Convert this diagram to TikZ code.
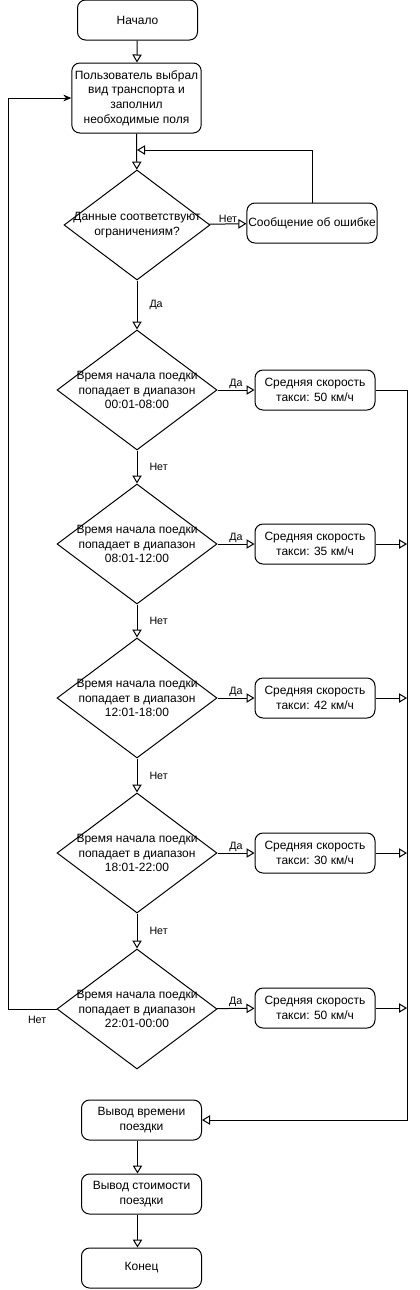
\documentclass[tikz,border=0pt]{standalone}
\usepackage{fontspec}
\setmainfont{Liberation Sans}
\usetikzlibrary{arrows.meta,shapes.geometric}

\begin{document}
\begin{tikzpicture}[x=0.75pt, y=-0.75pt, line width=0.75pt,
    font=\fontsize{9}{11}\selectfont,
    box/.style={draw, rounded corners=6pt, align=center, inner sep=1pt,
        minimum width=90pt, minimum height=30pt},
    dec/.style={draw, diamond, inner sep=0pt, minimum width=120pt, minimum height=90pt},
    dtxt/.style={align=center, inner sep=0pt},
    lbl/.style={font=\fontsize{8}{9}\selectfont, inner sep=1pt},
    arr/.style={-{Triangle[open, length=6pt, width=7pt]}},
    back/.style={-{Stealth[length=6pt, width=5pt]}}]
    \useasboundingbox (0,0) rectangle (420,1290);

    % Start and input
    \node[box] (start) at (137.5,20) {Начало};
    \node[box, minimum width=97pt, minimum height=52.5pt] (input) at (136.5,98)
        {Пользователь выбрал\\вид транспорта и\\заполнил\\необходимые поля};

    % Check of the input
    \node[dec, minimum width=109.5pt, minimum height=82.5pt] (d0) at (137,225) {};
    \node[dtxt] (d0t) at (d0) {Данные соответствуют\\ограничениям?};
    \node[box, minimum width=97.5pt] (err) at (312,223) {Сообщение об ошибке};
    \coordinate (j0) at (137,150);

    % Time ranges
    \node[dec] (d1) at (137,390) {};
    \node[dtxt] (d1t) at (d1) {Время начала поедки\\попадает в диапазон\\00:01-08:00};
    \node[dec] (d2) at (137,544) {};
    \node[dtxt] (d2t) at (d2) {Время начала поедки\\попадает в диапазон\\08:01-12:00};
    \node[dec] (d3) at (137,698) {};
    \node[dtxt] (d3t) at (d3) {Время начала поедки\\попадает в диапазон\\12:01-18:00};
    \node[dec] (d4) at (137,853) {};
    \node[dtxt] (d4t) at (d4) {Время начала поедки\\попадает в диапазон\\18:01-22:00};
    \node[dec] (d5) at (137,1009) {};
    \node[dtxt] (d5t) at (d5) {Время начала поедки\\попадает в диапазон\\22:01-00:00};

    % Average speeds
    \node[box] (sp1) at (315,390) {Средняя скорость\\такси: 50 км/ч};
    \node[box] (sp2) at (315,544) {Средняя скорость\\такси: 35 км/ч};
    \node[box] (sp3) at (315,698) {Средняя скорость\\такси: 42 км/ч};
    \node[box] (sp4) at (315,853) {Средняя скорость\\такси: 30 км/ч};
    \node[box] (sp5) at (315,1008) {Средняя скорость\\такси: 50 км/ч};
    \coordinate (rgt) at (407,390);
    \coordinate (lft) at (8,1009);

    % Output and end
    \node[box] (out1) at (141.5,1120) {Вывод времени\\поездки};
    \node[box] (out2) at (141.5,1194) {Вывод стоимости\\поездки};
    \node[box] (fin) at (141.5,1268) {Конец};

    % Connectors
    \draw[arr] (start) -- (input);
    \draw[arr] (input) -- (d0);
    \draw[arr] (d0) -- node[lbl, above] {Нет} (err);
    \draw[arr] (err.north) |- (j0);
    \draw[arr] (d0) -- node[lbl, right=8pt] {Да} (d1);
    \draw[arr] (d1) -- node[lbl, right=8pt] {Нет} (d2);
    \draw[arr] (d2) -- node[lbl, right=8pt] {Нет} (d3);
    \draw[arr] (d3) -- node[lbl, right=8pt] {Нет} (d4);
    \draw[arr] (d4) -- node[lbl, right=8pt] {Нет} (d5);
    \draw[arr] (d1) -- node[lbl, above] {Да} (sp1);
    \draw[arr] (d2) -- node[lbl, above] {Да} (sp2);
    \draw[arr] (d3) -- node[lbl, above] {Да} (sp3);
    \draw[arr] (d4) -- node[lbl, above] {Да} (sp4);
    \draw[arr] (d5) -- node[lbl, above] {Да} (sp5);
    \draw[back] (d5.west) -- node[lbl, below=4pt, pos=0.4] {Нет} (lft) |- (input.west);
    \draw[arr] (sp1.east) -- (rgt) |- (out1.east);
    \draw[arr] (sp2.east) -- (sp2.east -| rgt);
    \draw[arr] (sp3.east) -- (sp3.east -| rgt);
    \draw[arr] (sp4.east) -- (sp4.east -| rgt);
    \draw[arr] (sp5.east) -- (sp5.east -| rgt);
    \draw[arr] (out1.south -| start) -- (out2.north -| start);
    \draw[arr] (out2.south -| start) -- (fin.north -| start);
\end{tikzpicture}
\end{document}
